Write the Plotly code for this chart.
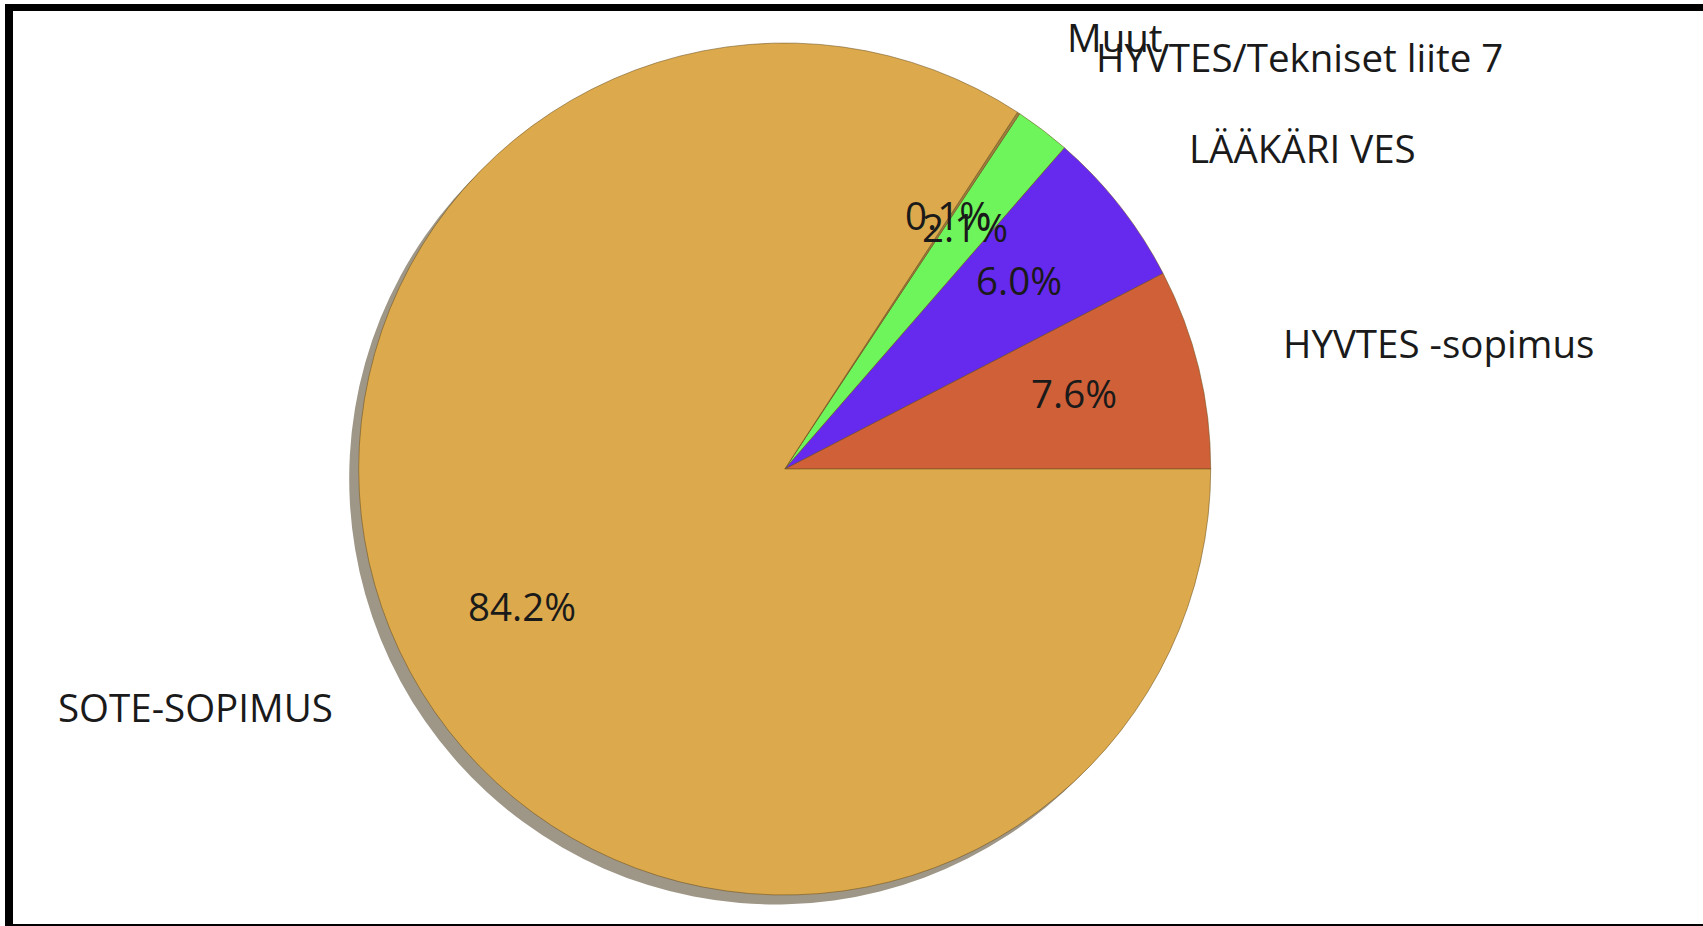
import numpy as np
import plotly.graph_objects as go

# Slice data (matplotlib-style pie, counterclockwise from 3 o'clock)
labels = ["HYVTES -sopimus", "LÄÄKÄRI VES", "HYVTES/Tekniset liite 7", "Muut", "SOTE-SOPIMUS"]
values = [7.6, 6.0, 2.1, 0.1, 84.2]
colors = ["#cf6037", "#6629ee", "#6ff55c", "#a08040", "#dcaa4c"]

W, H = 1703, 926
cx, cy, r = 784.7, 469.0, 426.0   # pie centre / radius in px
shadow_off = 9.5

vals = np.array(values)
frac = vals / vals.sum()
# plotly puts the first counterclockwise slice on the clockwise side of `rotation`,
# so shift it so the first slice starts at 3 o'clock like matplotlib
rot = 90 - 360 * frac[0]

fig = go.Figure()

# shadow
fig.add_trace(go.Pie(
    labels=labels, values=values, sort=False, direction="counterclockwise", rotation=rot,
    marker=dict(colors=["#9e9686"] * len(values), line=dict(width=0)),
    textinfo="none", hoverinfo="skip", showlegend=False,
    domain=dict(x=[(cx - r - shadow_off) / W, (cx + r - shadow_off) / W],
                y=[1 - (cy + r + shadow_off) / H, 1 - (cy - r + shadow_off) / H]),
))

fig.add_trace(go.Pie(
    labels=labels, values=values, sort=False, direction="counterclockwise", rotation=rot,
    marker=dict(colors=colors, line=dict(color="rgba(110,80,30,0.55)", width=1)),
    textinfo="none", showlegend=False,
    hovertemplate="%{label}: %{percent:.1%}<extra></extra>",
    domain=dict(x=[(cx - r) / W, (cx + r) / W], y=[1 - (cy + r) / H, 1 - (cy - r) / H]),
))

# label / percentage positions derived from the slice angles
mid = 2 * np.pi * (np.cumsum(frac) - frac / 2)
font = dict(family="Open Sans", size=38.5, color="#1a1a1a")
annotations = []
for lab, f, a in zip(labels, frac, mid):
    c, s = np.cos(a), np.sin(a)
    annotations.append(dict(x=1.2 * c, y=1.2 * s, xref="x", yref="y", text=lab,
                            showarrow=False, xanchor="left" if c > 0 else "right",
                            yanchor="middle", yshift=5, font=font))
    annotations.append(dict(x=0.7 * c, y=0.7 * s, xref="x", yref="y",
                            text=f"{f * 100:.1f}%", showarrow=False,
                            xanchor="center", yanchor="middle", yshift=5, font=font))

# screenshot frame
shapes = [
    dict(type="rect", xref="paper", yref="paper", x0=5 / W, x1=1.0, y0=1 - 11 / H, y1=1 - 4 / H,
         fillcolor="black", line=dict(width=0)),
    dict(type="rect", xref="paper", yref="paper", x0=5 / W, x1=13 / W, y0=0, y1=1 - 4 / H,
         fillcolor="black", line=dict(width=0)),
    dict(type="rect", xref="paper", yref="paper", x0=5 / W, x1=1.0, y0=0, y1=2 / H,
         fillcolor="black", line=dict(width=0)),
]

fig.update_layout(
    width=W, height=H,
    margin=dict(l=0, r=0, t=0, b=0),
    paper_bgcolor="white", plot_bgcolor="white",
    xaxis=dict(visible=False, range=[-cx / r, (W - cx) / r], fixedrange=True),
    yaxis=dict(visible=False, range=[-(H - cy) / r, cy / r], fixedrange=True),
    annotations=annotations,
    shapes=shapes,
)

fig.write_html("out.html", config={"displayModeBar": False},
               post_script="document.body.style.margin='0';")
